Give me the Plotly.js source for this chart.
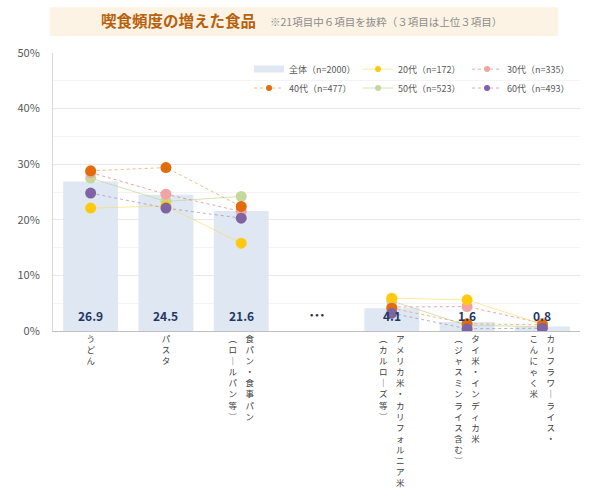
<!DOCTYPE html>
<html><head><meta charset="utf-8">
<script src="https://cdn.plot.ly/plotly-3.0.1.min.js"></script>
<style>html,body{margin:0;padding:0;background:#fff}#chart{width:599px;height:496px}</style>
</head><body><div id="chart"></div>
<script>
// ---- data ----
const labelMain = ['うどん','パスタ','食パン・食事パン','','アメリカ米・カリフォルニア米','タイ米・インディカ米','カリフラワーライス・'];
const labelSub  = ['','','（ロールパン等）','','（カルローズ等）','（ジャスミンライス含む）','こんにゃく米'];
const categories = labelMain.map((m,i)=> (m+labelSub[i]) || '…');
const seriesNames = ['全体（n=2000）','20代（n=172）','30代（n=335）','40代（n=477）','50代（n=523）','60代（n=493）'];
const total = [26.9, 24.5, 21.6, null, 4.1, 1.6, 0.8];
const age20 = [22.1, 22.5, 15.8, null, 5.9, 5.6, 1.2];
const age30 = [28.5, 24.6, 21.5, null, 4.3, 4.4, 1.4];
const age40 = [28.8, 29.4, 22.4, null, 4.1, 1.3, 1.1];
const age50 = [27.5, 23.3, 24.2, null, 5.4, 1.0, 0.8];
const age60 = [24.8, 22.1, 20.3, null, 3.2, 0.4, 0.5];
const yTicks = [0,10,20,30,40,50];

// ---- helpers ----
function vert(main, sub){
  const map = c => c==='ー'?'｜':c==='（'?'︵':c==='）'?'︶':c;
  const a=[...main].map(map), b=[...sub].map(map);
  const n=Math.max(a.length,b.length);
  const rows=[];
  for(let i=0;i<n;i++){
    rows.push(b.length ? (b[i]||'　')+'　'+(a[i]||'　') : a[i]);
  }
  return rows.join('<br>');
}
const tickText = labelMain.map((m,i)=>vert(m,labelSub[i]));

const F = '"Noto Sans CJK JP", "Noto Sans", sans-serif';

const style = {
  age20:{m:'#FFC90E', l:'rgba(250,220,90,0.6)', d:'solid'},
  age30:{m:'#F2A3A3', l:'rgba(235,100,100,0.6)', d:'dot'},
  age40:{m:'#E36C0A', l:'rgba(230,140,60,0.6)', d:'dot'},
  age50:{m:'#C4D89C', l:'rgba(190,215,150,0.7)', d:'solid'},
  age60:{m:'#8064A2', l:'rgba(140,130,170,0.6)', d:'dot'}
};

function lineTrace(y, s){
  return {type:'scatter', mode:'lines+markers', x:categories, y, showlegend:false,
    connectgaps:false, marker:{size:11, color:s.m}, line:{color:s.l, width:1, dash:s.d}, hoverinfo:'skip'};
}
function legendTrace(name, s, legend, rank){
  return {type:'scatter', mode:'lines+markers', name, x:[null], y:[null], legend, legendrank:rank,
    marker:{size:6, color:s.m}, line:{color:s.l, width:1, dash:s.d}, hoverinfo:'skip'};
}

const data = [
  {type:'bar', x:categories, y:total, width:0.73, showlegend:false,
   marker:{color:'#DFE7F3'}, hoverinfo:'skip'},
  lineTrace(age50, style.age50),
  lineTrace(age30, style.age30),
  lineTrace(age20, style.age20),
  lineTrace(age40, style.age40),
  lineTrace(age60, style.age60),
  {type:'scatter', mode:'lines', name:seriesNames[0], x:[null], y:[null], legend:'legend', legendrank:1,
   line:{color:'#DFE7F3', width:7}, hoverinfo:'skip'},
  legendTrace(seriesNames[1], style.age20, 'legend', 2),
  legendTrace(seriesNames[2], style.age30, 'legend', 3),
  legendTrace(seriesNames[3], style.age40, 'legend2', 4),
  legendTrace(seriesNames[4], style.age50, 'legend2', 5),
  legendTrace(seriesNames[5], style.age60, 'legend2', 6)
];

const annotations = [
  {xref:'paper', yref:'paper', x:0.087, y:1.119, xanchor:'left', yanchor:'middle', showarrow:false,
   text:'<b>喫食頻度の増えた食品</b>', font:{family:F, size:15.5, color:'#B8600C'}},
  {xref:'paper', yref:'paper', x:0.408, y:1.115, xanchor:'left', yanchor:'middle', showarrow:false,
   text:'※21項目中６項目を抜粋（３項目は上位３項目）', font:{family:F, size:10.5, color:'#8C8C8C'}},
  {xref:'x', yref:'y', x:categories[3], y:3.0, showarrow:false, yanchor:'middle',
   text:'<b>…</b>', font:{family:F, size:16, color:'#333'}}
];
total.forEach((v,i)=>{
  if(v===null) return;
  annotations.push({xref:'x', yref:'y', x:categories[i], y:0, yanchor:'bottom', yshift:5, showarrow:false,
    text:'<b>'+v.toFixed(1)+'</b>', font:{family:F, size:12, color:'#1F3864'}});
});

const legendBase = {orientation:'h', xanchor:'left', yanchor:'middle', x:0.372,
  entrywidth:64, font:{family:F, size:9, color:'#595959'}, bgcolor:'rgba(0,0,0,0)', itemclick:false};

const layout = {
  width:599, height:496,
  margin:{l:53, r:19, t:53, b:165},
  paper_bgcolor:'#fff', plot_bgcolor:'#fff',
  font:{family:F},
  showlegend:true,
  legend:Object.assign({}, legendBase, {y:0.942}),
  legend2:Object.assign({}, legendBase, {y:0.874}),
  xaxis:{type:'category', range:[-0.5,6.5], tickvals:categories, ticktext:tickText, tickangle:0,
    tickfont:{family:F, size:8.5, color:'#404040'}, showline:true, linecolor:'#BFBFBF', linewidth:1,
    showgrid:false, ticks:'', automargin:false, fixedrange:true},
  yaxis:{range:[0,50], tickvals:yTicks, ticktext:yTicks.map(v=>v+'%'), showgrid:true, gridcolor:'#E8E8E8',
    minor:{dtick:5, showgrid:true, gridcolor:'#F4F4F4'},
    showline:true, linecolor:'#D9D9D9', zeroline:false, ticks:'', ticklabelstandoff:10,
    tickfont:{family:F, size:11, color:'#595959'}, automargin:false, fixedrange:true},
  shapes:[{type:'rect', xref:'paper', yref:'paper', x0:-0.006, x1:0.958, y0:1.061, y1:1.165,
    fillcolor:'#FDF3E4', line:{width:0}, layer:'below'}],
  annotations
};

Plotly.newPlot('chart', data, layout, {staticPlot:true, displayModeBar:false});
</script>
</body></html>
